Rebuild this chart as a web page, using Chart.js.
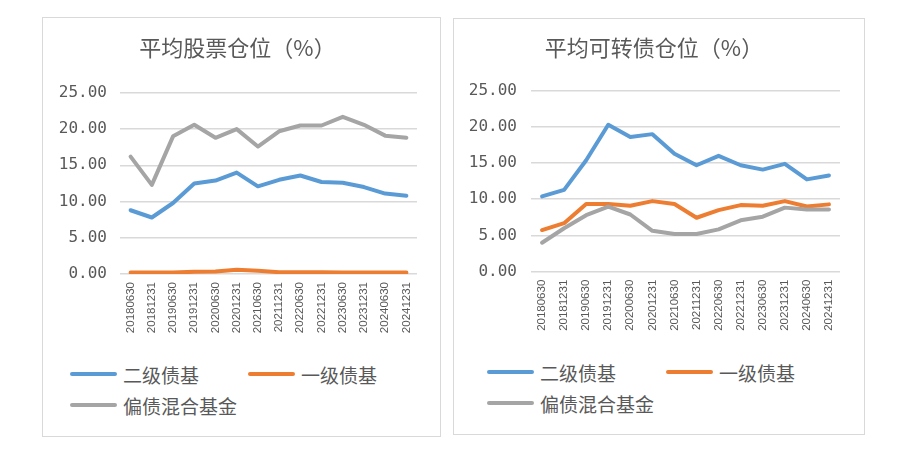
<!DOCTYPE html>
<html>
<head>
<meta charset="utf-8">
<script src="https://cdn.jsdelivr.net/npm/chart.js@4"></script>
<style>
  body { margin: 0; background: #fff; width: 897px; height: 457px; position: relative; overflow: hidden;
         font-family: "Noto Sans CJK SC", sans-serif; }
  .panel { position: absolute; border: 1px solid #d9d9d9; box-sizing: border-box; }
  .panel canvas { position: absolute; left: 0; top: 0; }
  .leg { position: absolute; height: 28px; display: flex; align-items: center; font-size: 19px;
         color: #595959; white-space: nowrap; }
  .leg i { display: inline-block; width: 47px; height: 4px; border-radius: 2px; margin-right: 6px; }
</style>
</head>
<body>
<div class="panel" style="left:42px;top:17px;width:399px;height:420px;">
  <canvas id="stock" width="397" height="320"></canvas>
</div>
<div class="panel" style="left:453px;top:18px;width:412px;height:417px;">
  <canvas id="cb" width="410" height="320"></canvas>
</div>
<script>
const dates = ["20180630", "20181231", "20190630", "20191231", "20200630", "20201231", "20210630",
               "20211231", "20220630", "20221231", "20230630", "20231231", "20240630", "20241231"];
const seriesNames = ["二级债基", "一级债基", "偏债混合基金"];
const seriesColors = ["#5B9BD5", "#ED7D31", "#A5A5A5"];

// 平均股票仓位（%）
const stockSecondary = [8.8, 7.8, 9.8, 12.5, 12.9, 14.0, 12.1, 13.0, 13.6, 12.7, 12.6, 12.0, 11.1, 10.8];
const stockPrimary   = [0.2, 0.2, 0.2, 0.3, 0.35, 0.6, 0.45, 0.25, 0.25, 0.25, 0.2, 0.2, 0.2, 0.2];
const stockHybrid    = [16.2, 12.3, 19.0, 20.6, 18.8, 20.0, 17.6, 19.7, 20.5, 20.5, 21.7, 20.6, 19.1, 18.8];

// 平均可转债仓位（%）
const cbSecondary = [10.4, 11.3, 15.4, 20.3, 18.6, 19.0, 16.3, 14.7, 16.0, 14.7, 14.1, 14.9, 12.75, 13.3];
const cbPrimary   = [5.75, 6.7, 9.35, 9.35, 9.1, 9.75, 9.35, 7.45, 8.5, 9.2, 9.1, 9.75, 9.0, 9.3];
const cbHybrid    = [4.0, 6.0, 7.8, 9.0, 7.9, 5.65, 5.2, 5.2, 5.85, 7.1, 7.6, 8.85, 8.6, 8.6];

const yMin = 0, yMax = 25, yStep = 5;

const textColor = "#595959";
const gridColor = "#d9d9d9";

function makeChart(id, title, series, lay) {
  const ctx = document.getElementById(id).getContext("2d");
  return new Chart(ctx, {
    type: "line",
    data: {
      labels: dates,
      datasets: series.map((values, i) => ({
        label: seriesNames[i],
        data: values,
        borderColor: seriesColors[i],
        backgroundColor: seriesColors[i],
        borderWidth: 4,
        pointRadius: 0,
        tension: 0,
        fill: false,
        borderJoinStyle: "round",
        borderCapStyle: "round",
        order: 3 - i, // later series on top, like the original
      })),
    },
    options: {
      responsive: false,
      animation: false,
      layout: { padding: { left: lay.leftPad, right: lay.rightPad, top: 0, bottom: 0 } },
      plugins: {
        legend: { display: false }, // legend is built below as html
        tooltip: { enabled: false },
        title: {
          display: true,
          text: title,
          color: textColor,
          font: { family: "Noto Sans CJK SC", size: 22, weight: "normal", lineHeight: 1.2 },
          padding: { top: lay.titleTop, bottom: lay.titleBottom },
        },
      },
      scales: {
        x: {
          offset: true,
          grid: { display: false, drawTicks: false },
          border: { display: false },
          ticks: {
            color: textColor,
            font: { family: "Liberation Sans", size: 11.5 },
            minRotation: 90,
            maxRotation: 90,
            autoSkip: false,
            padding: 8,
          },
          afterFit: (s) => { s.height = lay.xHeight; },
        },
        y: {
          min: yMin,
          max: yMax,
          grid: { color: gridColor, lineWidth: 1.6, drawTicks: false },
          border: { display: false },
          ticks: {
            stepSize: yStep,
            color: textColor,
            font: { family: "DejaVu Sans Mono", size: 16 },
            padding: lay.yPad,
            callback: (v) => v.toFixed(2),
          },
          afterFit: (s) => { s.width = 77 - lay.leftPad; },
        },
      },
    },
  });
}

function makeLegend(items) {
  items.forEach(([x, y], i) => {
    const d = document.createElement("div");
    d.className = "leg";
    d.style.left = x + "px";
    d.style.top = (y - 14) + "px";
    d.innerHTML = '<i style="background:' + seriesColors[i] + '"></i>' + seriesNames[i];
    document.body.appendChild(d);
  });
}

makeChart("stock", "平均股票仓位（%）", [stockSecondary, stockPrimary, stockHybrid],
  { leftPad: 15, rightPad: 23, titleTop: 16, titleBottom: 32.5, xHeight: 64, yPad: 13 });
makeChart("cb", "平均可转债仓位（%）", [cbSecondary, cbPrimary, cbHybrid],
  { leftPad: 14, rightPad: 24, titleTop: 15, titleBottom: 30.3, xHeight: 67.3, yPad: 14 });

makeLegend([[70, 374], [248, 374], [70, 405]]);
makeLegend([[487, 372], [666, 372], [487, 403]]);
</script>
</body>
</html>
